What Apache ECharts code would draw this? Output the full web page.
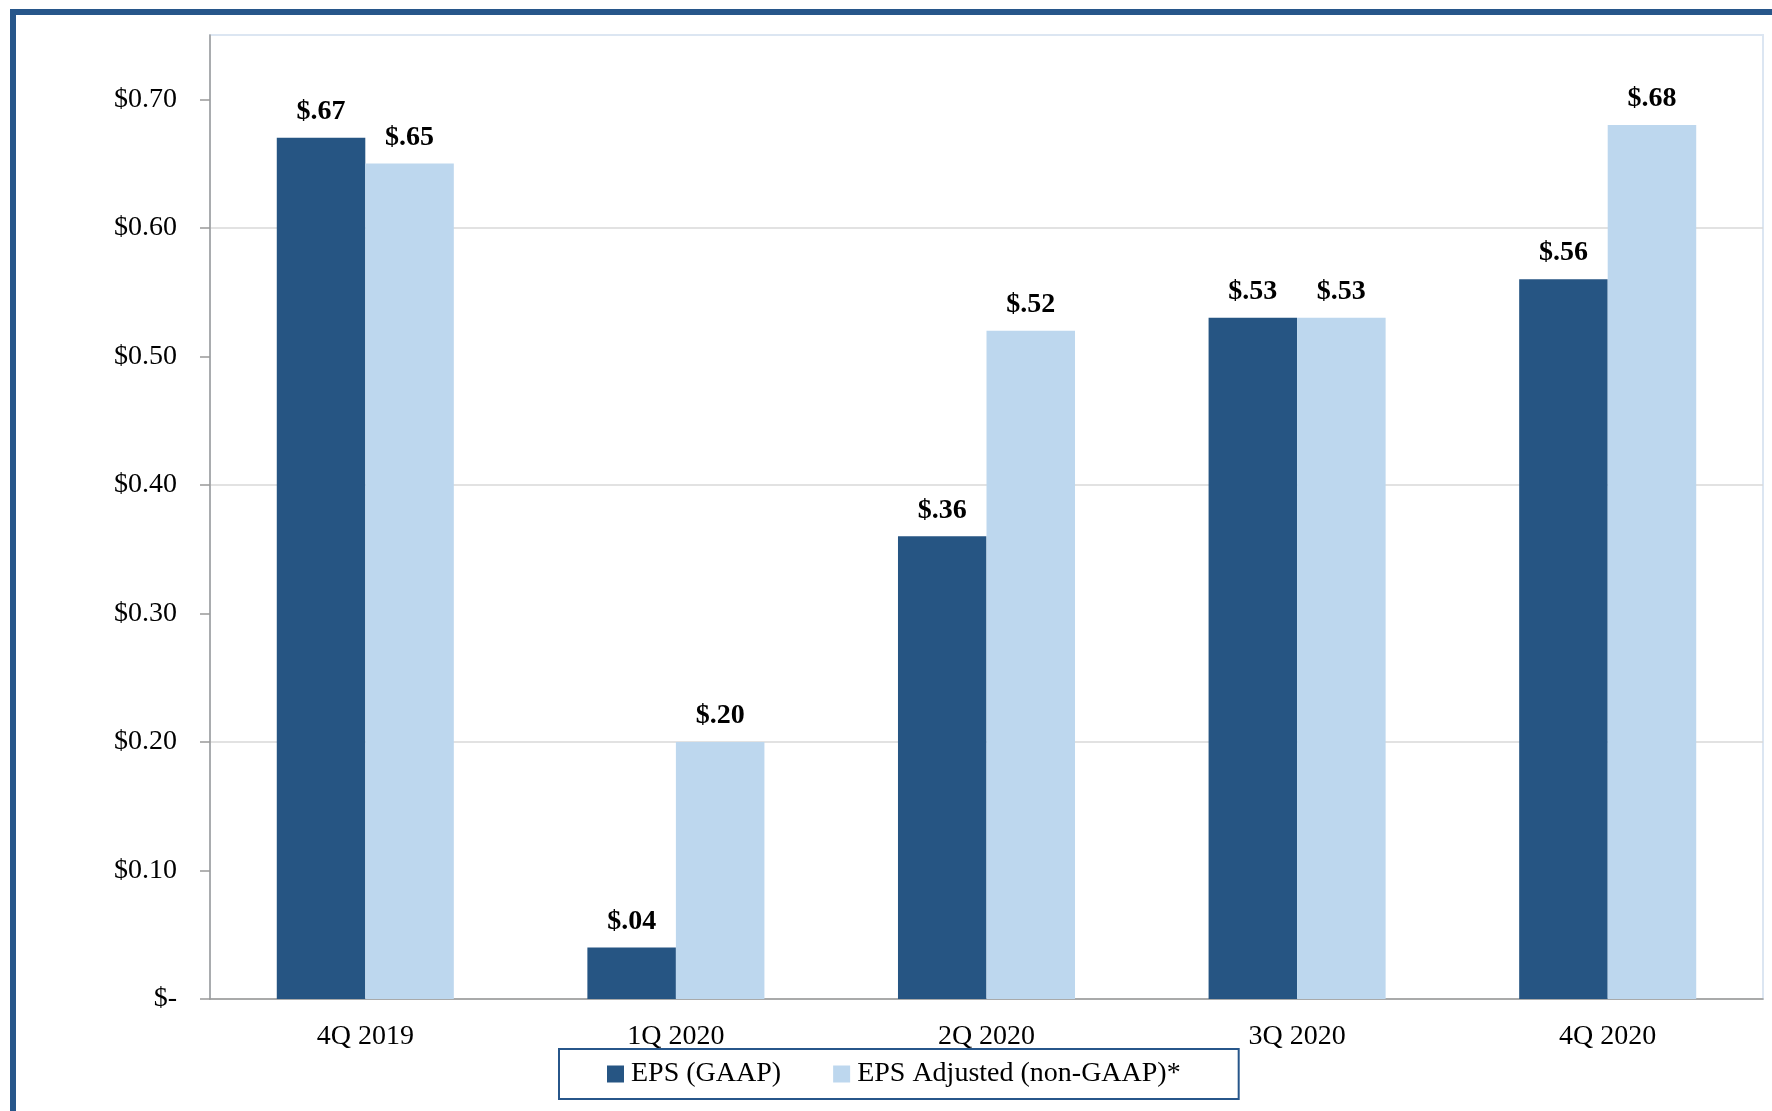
<!DOCTYPE html>
<html>
<head>
<meta charset="utf-8">
<title>EPS by Quarter</title>
<script src="https://cdn.jsdelivr.net/npm/echarts@6/dist/echarts.min.js"></script>
<style>
  html, body { margin: 0; padding: 0; background: #ffffff; }
  #chart { width: 1772px; height: 1111px; }
</style>
</head>
<body>
<div id="chart"></div>
<script>
// Quarterly earnings per share, GAAP vs. adjusted
const quarters = ['4Q 2019', '1Q 2020', '2Q 2020', '3Q 2020', '4Q 2020'];
const epsGaap = [0.67, 0.04, 0.36, 0.53, 0.56];
const epsAdjusted = [0.65, 0.20, 0.52, 0.53, 0.68];
const seriesNames = ['EPS (GAAP)', 'EPS Adjusted (non-GAAP)*'];
const yTicks = [0, 0.1, 0.2, 0.3, 0.4, 0.5, 0.6, 0.7];

const FONT = "'Palatino Linotype', 'Book Antiqua', Palatino, 'Liberation Serif', serif";
const DARK = '#265583';
const LIGHT = '#BDD7EE';
const FRAME = '#27568A';

const fmtAxis = v => (v === 0 ? '$-' : '$' + v.toFixed(2));
const fmtLabel = p => '$' + p.value.toFixed(2).replace(/^0/, '');

const chart = echarts.init(document.getElementById('chart'), null, { renderer: 'canvas' });

const barLabel = {
  show: true,
  position: 'top',
  distance: 12,
  formatter: fmtLabel,
  fontFamily: FONT,
  fontSize: 28,
  fontWeight: 'bold',
  color: '#000000'
};

chart.setOption({
  backgroundColor: '#ffffff',
  animation: false,
  textStyle: { fontFamily: FONT },
  graphic: [
    // slide frame: top and left rules
    { type: 'rect', shape: { x: 10, y: 9, width: 1762, height: 6 }, style: { fill: FRAME } },
    { type: 'rect', shape: { x: 10, y: 9, width: 6, height: 1102 }, style: { fill: FRAME } }
  ],
  grid: {
    left: 210,
    top: 35,
    right: 9,
    bottom: 112,
    show: true,
    borderColor: '#DCE6F2',
    borderWidth: 2,
    containLabel: false
  },
  legend: {
    data: seriesNames,
    left: 559,
    top: 1049,
    orient: 'horizontal',
    padding: [11, 58, 11, 48],
    borderColor: FRAME,
    borderWidth: 2,
    itemWidth: 17,
    itemHeight: 17,
    itemGap: 52,
    icon: 'rect',
    textStyle: { fontFamily: FONT, fontSize: 28, color: '#000000', padding: [0, 0, 0, 2] }
  },
  xAxis: {
    type: 'category',
    data: quarters,
    axisLine: { show: true, lineStyle: { color: '#999999', width: 1.5 } },
    axisTick: { show: false },
    axisLabel: { fontFamily: FONT, fontSize: 28, color: '#000000', margin: 24 },
    splitLine: { show: false }
  },
  yAxis: {
    type: 'value',
    min: 0,
    max: 0.75,
    interval: 0.05,
    axisLine: { show: true, lineStyle: { color: '#999999', width: 1.5 } },
    axisTick: {
      show: true,
      length: 10,
      customValues: yTicks,
      lineStyle: { color: '#999999', width: 1.5 }
    },
    axisLabel: {
      customValues: yTicks,
      formatter: fmtAxis,
      fontFamily: FONT,
      fontSize: 28,
      color: '#000000',
      margin: 33
    },
    splitLine: {
      show: true,
      lineStyle: {
        color: ['#D9D9D9', 'rgba(0,0,0,0)', '#D9D9D9', 'rgba(0,0,0,0)', '#D9D9D9', 'rgba(0,0,0,0)',
                '#D9D9D9', 'rgba(0,0,0,0)', '#D9D9D9', 'rgba(0,0,0,0)', '#D9D9D9', 'rgba(0,0,0,0)',
                '#D9D9D9', 'rgba(0,0,0,0)', '#D9D9D9', '#DCE6F2'],
        width: 1.5
      }
    }
  },
  series: [
    {
      name: seriesNames[0],
      type: 'bar',
      data: epsGaap,
      barGap: '0%',
      barCategoryGap: '43%',
      itemStyle: { color: DARK },
      label: barLabel
    },
    {
      name: seriesNames[1],
      type: 'bar',
      data: epsAdjusted,
      itemStyle: { color: LIGHT },
      label: barLabel
    }
  ]
});
</script>
</body>
</html>
